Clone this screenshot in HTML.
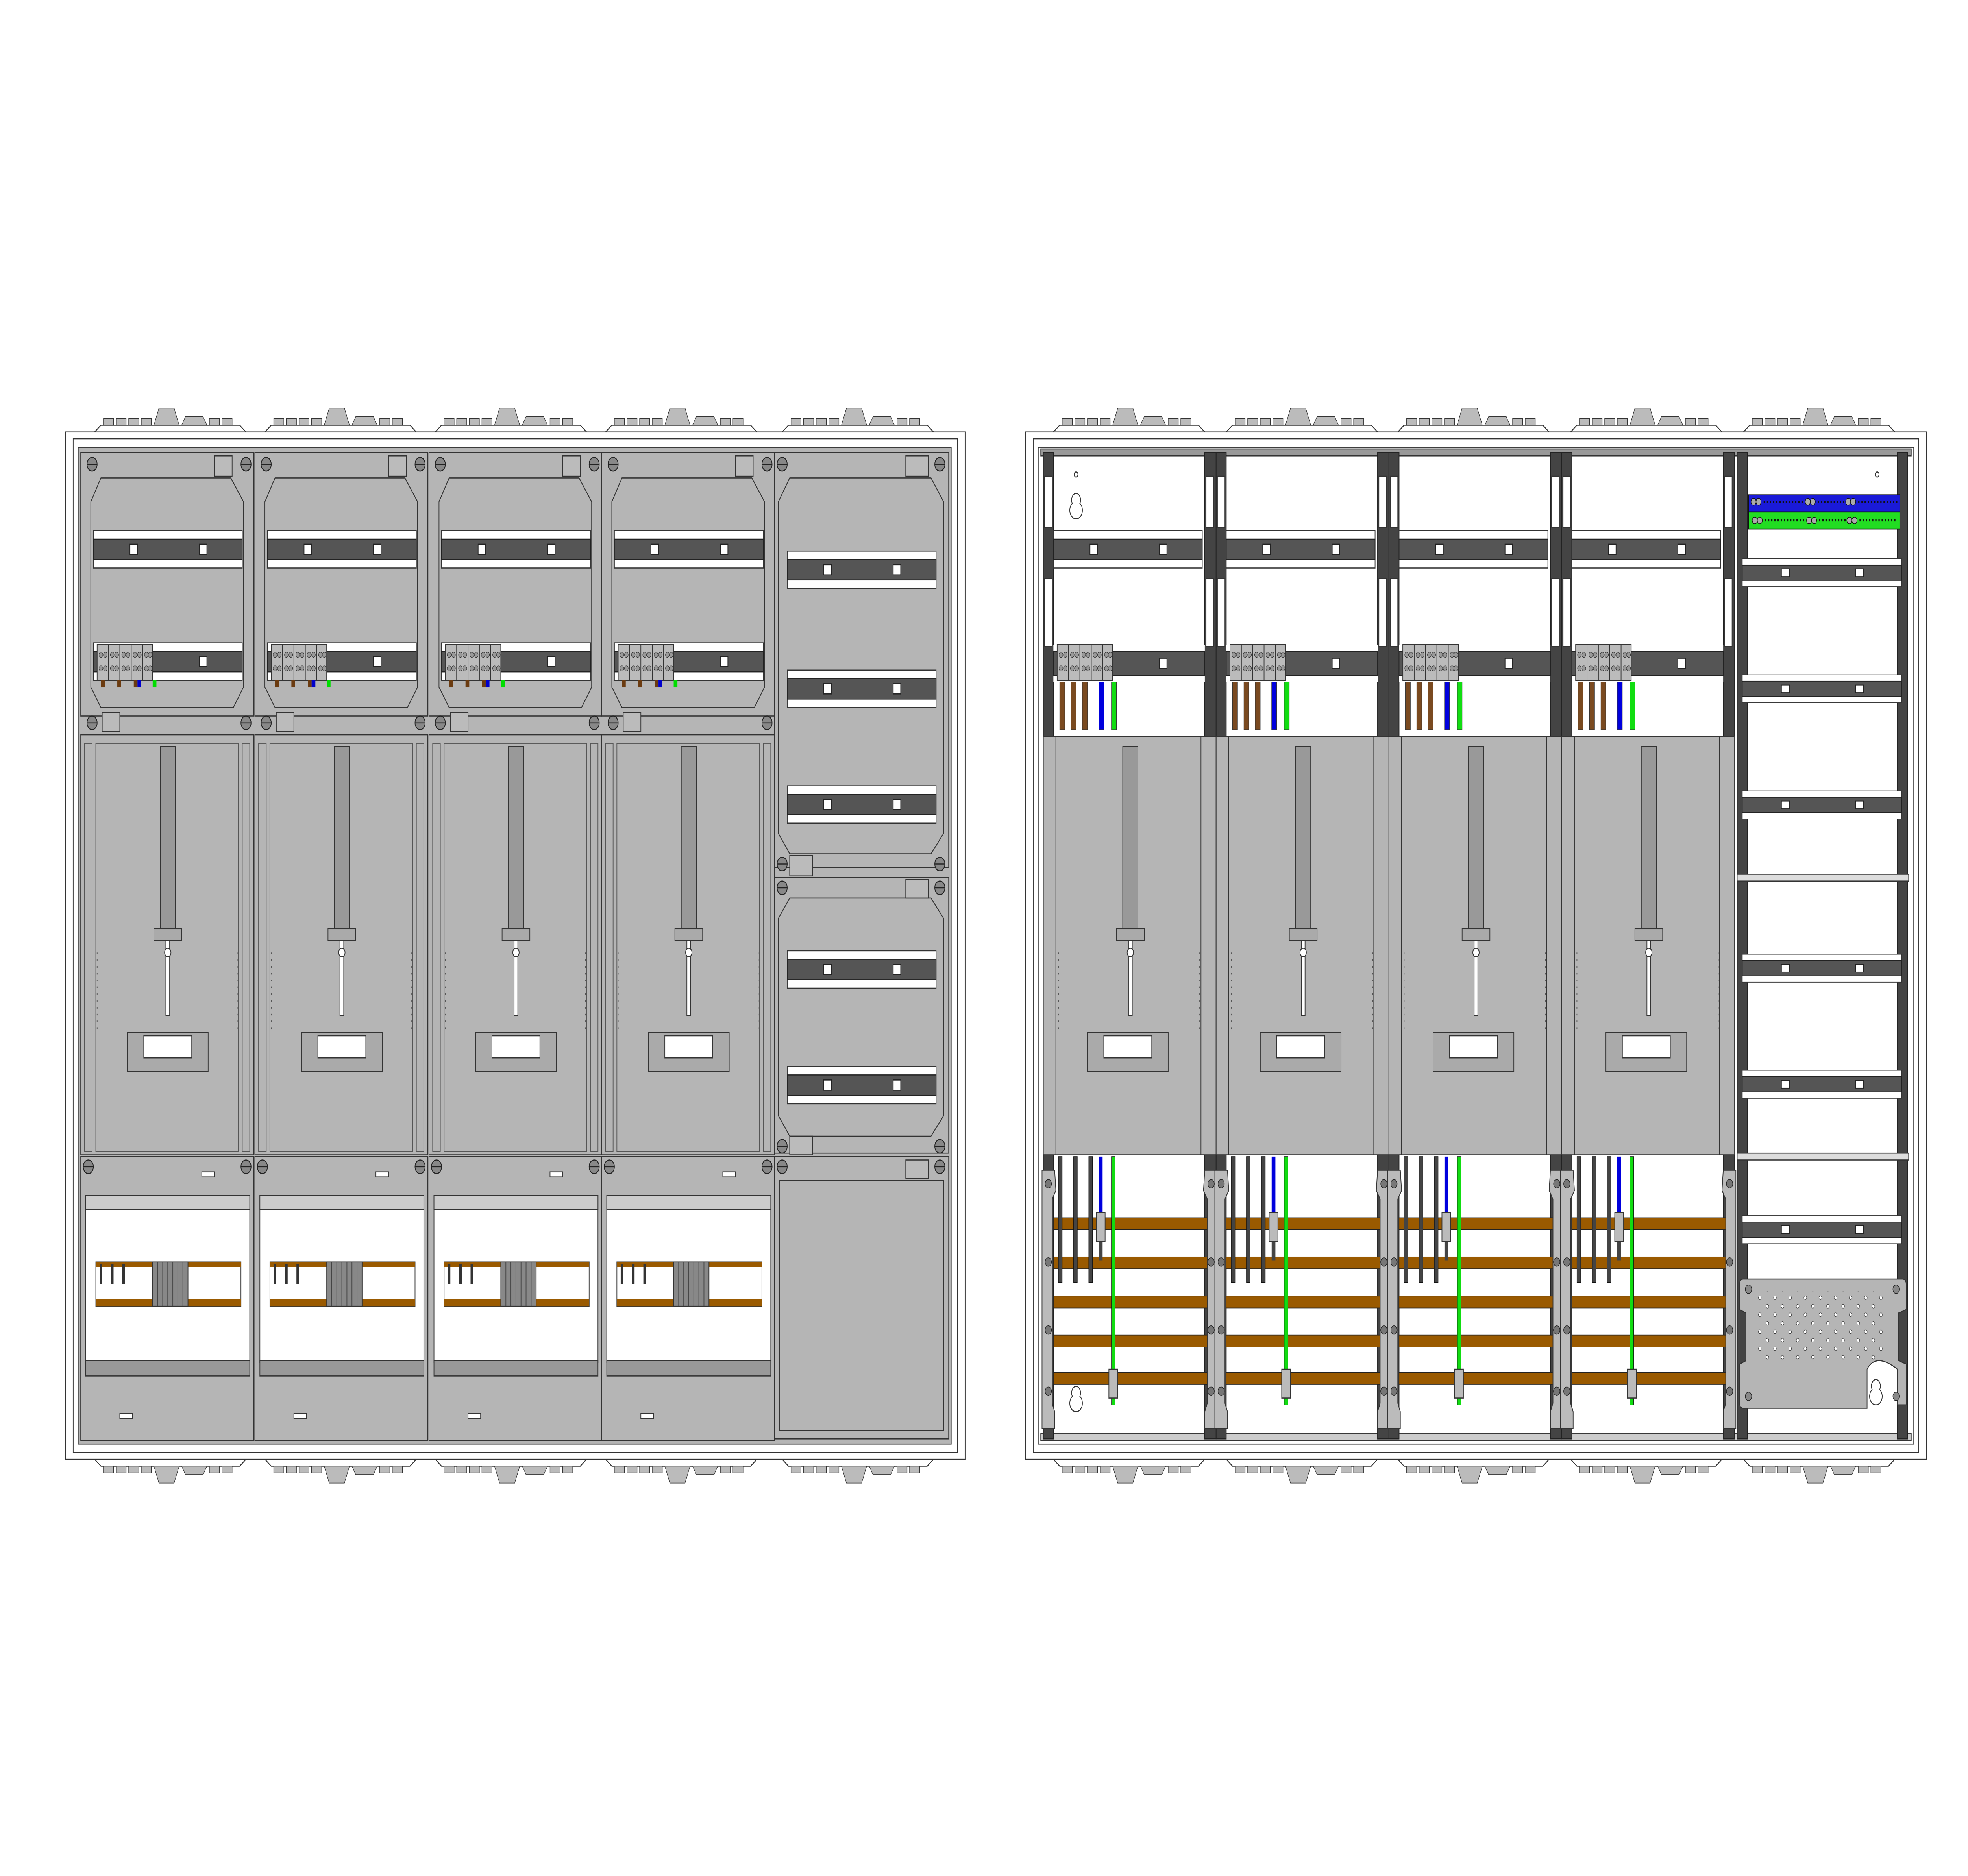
<!DOCTYPE html>
<html><head><meta charset="utf-8"><style>html,body{margin:0;padding:0;background:#fff;width:100%;height:100%;overflow:hidden}svg{display:block;position:fixed;left:0;top:0;width:100vw;height:100vh}</style></head>
<body>
<svg viewBox="0 0 1560 1103" preserveAspectRatio="none" xmlns="http://www.w3.org/2000/svg" stroke-width="0.6">
<defs>
<pattern id="holes" x="0" y="0" width="12" height="10" patternUnits="userSpaceOnUse">
<circle cx="3" cy="3" r="1.1" fill="#fff" stroke="#333" stroke-width="0.3"/>
<circle cx="9" cy="8" r="1.1" fill="#fff" stroke="#333" stroke-width="0.3"/>
</pattern>
<g id="glandT">
<path d="M-60 14 L-55 10 L55 10 L60 14" fill="#fff" stroke="#333"/>
<g fill="#bbb" stroke="#333" stroke-width="0.4">
<rect x="-53" y="6" width="8" height="4"/><rect x="-43" y="6" width="8" height="4"/><rect x="-33" y="6" width="8" height="4"/><rect x="-23" y="6" width="8" height="4"/>
<path d="M-13 10 L-9 0 L3 0 L7 10Z"/><path d="M9 10 L12 5 L26 5 L29 10Z"/>
<rect x="31" y="6" width="8" height="4"/><rect x="41" y="6" width="8" height="4"/>
</g></g>
<g id="glandB">
<path d="M-60 0 L-55 4 L55 4 L60 0" fill="#fff" stroke="#333"/>
<g fill="#bbb" stroke="#333" stroke-width="0.4">
<rect x="-53" y="4" width="8" height="4"/><rect x="-43" y="4" width="8" height="4"/><rect x="-33" y="4" width="8" height="4"/><rect x="-23" y="4" width="8" height="4"/>
<path d="M-13 4 L-9 14 L3 14 L7 4Z"/><path d="M9 4 L12 9 L26 9 L29 4Z"/>
<rect x="31" y="4" width="8" height="4"/><rect x="41" y="4" width="8" height="4"/>
</g></g>
<g id="rail">
<rect x="0" y="0" width="118" height="22" fill="#fff" stroke="#333"/>
<rect x="0" y="5" width="118" height="12" fill="#555" stroke="#222"/>
<rect x="29" y="8" width="6" height="6" fill="#fff" stroke="#222"/>
<rect x="84" y="8" width="6" height="6" fill="#fff" stroke="#222"/>
</g>
<g id="term">
<rect x="0" y="0" width="44" height="21" fill="#bbb" stroke="#333"/>
<g stroke="#333" fill="none"><line x1="9" y1="0" x2="9" y2="21"/><line x1="18" y1="0" x2="18" y2="21"/><line x1="27" y1="0" x2="27" y2="21"/><line x1="36" y1="0" x2="36" y2="21"/></g>
<g fill="#999" stroke="#333" stroke-width="0.3">
<circle cx="3" cy="6" r="1.5"/><circle cx="6.5" cy="6" r="1.5"/><circle cx="12" cy="6" r="1.5"/><circle cx="15.5" cy="6" r="1.5"/><circle cx="21" cy="6" r="1.5"/><circle cx="24.5" cy="6" r="1.5"/><circle cx="30" cy="6" r="1.5"/><circle cx="33.5" cy="6" r="1.5"/><circle cx="39" cy="6" r="1.5"/><circle cx="42" cy="6" r="1.5"/>
<circle cx="3" cy="14" r="1.5"/><circle cx="6.5" cy="14" r="1.5"/><circle cx="12" cy="14" r="1.5"/><circle cx="15.5" cy="14" r="1.5"/><circle cx="21" cy="14" r="1.5"/><circle cx="24.5" cy="14" r="1.5"/><circle cx="30" cy="14" r="1.5"/><circle cx="33.5" cy="14" r="1.5"/><circle cx="39" cy="14" r="1.5"/><circle cx="42" cy="14" r="1.5"/>
</g></g>
<g id="screw"><circle r="4" fill="#888" stroke="#222"/><line x1="-4" y1="0" x2="4" y2="0" stroke="#222"/></g>
<g id="lcol">
<rect x="0" y="266" width="137" height="155" fill="#b5b5b5" stroke="#333"/>
<path d="M16 281 L119 281 L129 295 L129 404 L121 416 L16 416 L8 404 L8 295Z" fill="#b5b5b5" stroke="#333"/>
<rect x="106" y="268" width="14" height="12" fill="#bbb" stroke="#333"/>
<rect x="17" y="419" width="14" height="11" fill="#bbb" stroke="#333"/>
<use href="#screw" x="9" y="273"/><use href="#screw" x="131" y="273"/><use href="#screw" x="9" y="425"/><use href="#screw" x="131" y="425"/>
<use href="#rail" x="10" y="312"/>
<use href="#rail" x="10" y="378"/>
<use href="#term" x="13" y="379"/>
<rect x="16" y="400" width="3" height="4" fill="#6b3b10"/><rect x="29" y="400" width="3" height="4" fill="#6b3b10"/><rect x="42" y="400" width="3" height="4" fill="#6b3b10"/><rect x="45" y="400" width="3" height="4" fill="#00c"/><rect x="57" y="400" width="3" height="4" fill="#0d0"/>
<rect x="0" y="432" width="137" height="247" fill="#b5b5b5" stroke="#333"/>
<rect x="12" y="437" width="113" height="240" fill="#b5b5b5" stroke="#555"/>
<rect x="3" y="437" width="6" height="240" fill="none" stroke="#555"/>
<rect x="128" y="437" width="6" height="240" fill="none" stroke="#555"/>
<rect x="63" y="439" width="12" height="108" fill="#999" stroke="#333"/>
<rect x="58" y="546" width="22" height="7" fill="#aaa" stroke="#333"/>
<rect x="67.5" y="553" width="3" height="44" fill="#fff" stroke="#333"/>
<circle cx="69" cy="560" r="2.5" fill="#fff" stroke="#333"/>
<rect x="37" y="607" width="64" height="23" fill="#aaa" stroke="#333"/>
<rect x="50" y="609" width="38" height="13" fill="#fff" stroke="#333"/>
<g stroke="#555" stroke-dasharray="1,3"><line x1="13" y1="560" x2="13" y2="608"/><line x1="124" y1="560" x2="124" y2="608"/></g>
<rect x="0" y="680" width="137" height="167" fill="#b5b5b5" stroke="#333"/>
<use href="#screw" x="6" y="686"/><use href="#screw" x="131" y="686"/>
<rect x="96" y="689" width="10" height="3" fill="#fff" stroke="#333"/>
<rect x="4" y="703" width="130" height="98" fill="#fff" stroke="#333"/>
<rect x="4" y="703" width="130" height="8" fill="#ccc" stroke="#333"/>
<rect x="4" y="800" width="130" height="9" fill="#999" stroke="#333"/>
<rect x="12" y="742" width="115" height="26" fill="#fff" stroke="#333"/>
<rect x="12" y="742" width="115" height="3" fill="#9a5a00"/><rect x="12" y="764" width="115" height="4" fill="#9a5a00"/>
<rect x="57" y="742" width="28" height="26" fill="#888" stroke="#333"/>
<g stroke="#444"><line x1="61" y1="742" x2="61" y2="768"/><line x1="65" y1="742" x2="65" y2="768"/><line x1="69" y1="742" x2="69" y2="768"/><line x1="73" y1="742" x2="73" y2="768"/><line x1="77" y1="742" x2="77" y2="768"/><line x1="81" y1="742" x2="81" y2="768"/></g>
<rect x="15" y="743" width="2" height="12" fill="#333"/><rect x="24" y="743" width="2" height="12" fill="#333"/><rect x="33" y="743" width="2" height="12" fill="#333"/>
<rect x="31" y="831" width="10" height="3" fill="#fff" stroke="#333"/>
</g>
<g id="rcol">
<rect x="0" y="266" width="8" height="580" fill="#444" stroke="#222"/>
<rect x="128" y="266" width="9" height="580" fill="#444" stroke="#222"/>
<rect x="1" y="280" width="6" height="30" fill="#fff" stroke="#333"/>
<rect x="129" y="280" width="6" height="30" fill="#fff" stroke="#333"/>
<rect x="1" y="340" width="6" height="40" fill="#fff" stroke="#333"/>
<rect x="129" y="340" width="6" height="40" fill="#fff" stroke="#333"/>
<use href="#rail" x="8" y="312"/>
<rect x="8" y="379" width="120" height="22" fill="#fff"/>
<rect x="8" y="383" width="120" height="14" fill="#555" stroke="#222"/>
<rect x="92" y="387" width="6" height="6" fill="#fff" stroke="#222"/>
<use href="#term" x="11" y="379"/>
<rect x="13" y="401" width="4" height="28" fill="#7a4a20" stroke="#333" stroke-width="0.3"/>
<rect x="22" y="401" width="4" height="28" fill="#7a4a20" stroke="#333" stroke-width="0.3"/>
<rect x="31" y="401" width="4" height="28" fill="#7a4a20" stroke="#333" stroke-width="0.3"/>
<rect x="44" y="401" width="4" height="28" fill="#00d" stroke="#333" stroke-width="0.3"/>
<rect x="54" y="401" width="4" height="28" fill="#1d1" stroke="#333" stroke-width="0.3"/>
<rect x="8" y="433" width="122" height="246" fill="#b5b5b5" stroke="#333"/>
<rect x="0" y="433" width="10" height="246" fill="#b5b5b5" stroke="#333"/>
<rect x="125" y="433" width="12" height="246" fill="#b5b5b5" stroke="#333"/>
<rect x="63" y="439" width="12" height="108" fill="#999" stroke="#333"/>
<rect x="58" y="546" width="22" height="7" fill="#aaa" stroke="#333"/>
<rect x="67.5" y="553" width="3" height="44" fill="#fff" stroke="#333"/>
<circle cx="69" cy="560" r="2.5" fill="#fff" stroke="#333"/>
<rect x="35" y="607" width="64" height="23" fill="#aaa" stroke="#333"/>
<rect x="48" y="609" width="38" height="13" fill="#fff" stroke="#333"/>
<g stroke="#555" stroke-dasharray="1,3"><line x1="12" y1="560" x2="12" y2="608"/><line x1="124" y1="560" x2="124" y2="608"/></g>
<g fill="#9a5a00" stroke="#222" stroke-width="0.4">
<rect x="8" y="716" width="129" height="7"/><rect x="8" y="739" width="129" height="7"/><rect x="8" y="762" width="129" height="7"/><rect x="8" y="785" width="129" height="7"/><rect x="8" y="807" width="129" height="7"/>
</g>
<rect x="12" y="680" width="3" height="74" fill="#444" stroke="#111" stroke-width="0.3"/>
<rect x="24" y="680" width="3" height="74" fill="#444" stroke="#111" stroke-width="0.3"/>
<rect x="36" y="680" width="3" height="74" fill="#444" stroke="#111" stroke-width="0.3"/>
<rect x="44" y="680" width="3" height="40" fill="#00d"/><rect x="44" y="720" width="3" height="21" fill="#444"/>
<rect x="42" y="713" width="7" height="17" fill="#bbb" stroke="#333"/>
<rect x="54" y="680" width="3" height="146" fill="#1d1" stroke="#111" stroke-width="0.3"/>
<rect x="52" y="805" width="7" height="17" fill="#bbb" stroke="#333"/>
<path d="M-1 688 L9 688 L10 700 L7 705 L7 825 L9 830 L9 840 L-1 840Z" fill="#bbb" stroke="#333"/>
<path d="M138 688 L128 688 L127 700 L130 705 L130 825 L128 830 L128 840 L138 840Z" fill="#bbb" stroke="#333"/>
<g fill="#777" stroke="#222" stroke-width="0.4"><circle cx="4" cy="696" r="2.5"/><circle cx="4" cy="742" r="2.5"/><circle cx="4" cy="782" r="2.5"/><circle cx="4" cy="818" r="2.5"/><circle cx="133" cy="696" r="2.5"/><circle cx="133" cy="742" r="2.5"/><circle cx="133" cy="782" r="2.5"/><circle cx="133" cy="818" r="2.5"/></g>
</g>
</defs>

<use href="#glandT" x="135" y="240"/><use href="#glandT" x="270" y="240"/><use href="#glandT" x="405" y="240"/><use href="#glandT" x="540" y="240"/><use href="#glandT" x="680" y="240"/>
<use href="#glandB" x="135" y="858"/><use href="#glandB" x="270" y="858"/><use href="#glandB" x="405" y="858"/><use href="#glandB" x="540" y="858"/><use href="#glandB" x="680" y="858"/>
<rect x="52" y="254" width="713" height="604" fill="#fff" stroke="#333"/>
<rect x="58" y="258" width="701" height="596" fill="#fff" stroke="#333"/>
<rect x="62" y="263" width="692" height="586" fill="#b5b5b5" stroke="#333"/>
<use href="#lcol" x="64"/><use href="#lcol" x="202"/><use href="#lcol" x="340"/><use href="#lcol" x="477"/>
<rect x="614" y="266" width="138" height="244" fill="#b5b5b5" stroke="#333"/>
<path d="M626 281 L738 281 L748 295 L748 490 L738 502 L626 502 L617 490 L617 295Z" fill="#b5b5b5" stroke="#333"/>
<use href="#screw" x="620" y="273"/><use href="#screw" x="745" y="273"/><use href="#screw" x="620" y="508"/><use href="#screw" x="745" y="508"/>
<rect x="718" y="268" width="18" height="12" fill="#bbb" stroke="#333"/>
<rect x="626" y="503" width="18" height="12" fill="#bbb" stroke="#333"/>
<use href="#rail" x="624" y="324"/><use href="#rail" x="624" y="394"/><use href="#rail" x="624" y="462"/>
<rect x="614" y="516" width="138" height="162" fill="#b5b5b5" stroke="#333"/>
<path d="M626 528 L738 528 L748 540 L748 656 L738 668 L626 668 L617 656 L617 540Z" fill="#b5b5b5" stroke="#333"/>
<use href="#screw" x="620" y="522"/><use href="#screw" x="745" y="522"/><use href="#screw" x="620" y="674"/><use href="#screw" x="745" y="674"/>
<rect x="718" y="517" width="18" height="11" fill="#bbb" stroke="#333"/>
<rect x="626" y="668" width="18" height="11" fill="#bbb" stroke="#333"/>
<use href="#rail" x="624" y="559"/><use href="#rail" x="624" y="627"/>
<rect x="614" y="680" width="138" height="166" fill="#b5b5b5" stroke="#333"/>
<rect x="618" y="694" width="130" height="147" fill="#b5b5b5" stroke="#333"/>
<use href="#screw" x="620" y="686"/><use href="#screw" x="745" y="686"/>
<rect x="718" y="682" width="18" height="11" fill="#bbb" stroke="#333"/>

<use href="#glandT" x="895" y="240"/><use href="#glandT" x="1032" y="240"/><use href="#glandT" x="1168" y="240"/><use href="#glandT" x="1305" y="240"/><use href="#glandT" x="1442" y="240"/>
<use href="#glandB" x="895" y="858"/><use href="#glandB" x="1032" y="858"/><use href="#glandB" x="1168" y="858"/><use href="#glandB" x="1305" y="858"/><use href="#glandB" x="1442" y="858"/>
<rect x="813" y="254" width="714" height="604" fill="#fff" stroke="#333"/>
<rect x="819" y="258" width="702" height="596" fill="#fff" stroke="#333"/>
<rect x="823" y="263" width="694" height="586" fill="#fff" stroke="#333"/>
<rect x="825" y="264" width="690" height="4" fill="#999" stroke="#333"/>
<rect x="825" y="843" width="690" height="4" fill="#ccc" stroke="#333"/>
<use href="#rcol" x="827"/><use href="#rcol" x="964"/><use href="#rcol" x="1101"/><use href="#rcol" x="1238"/>
<path d="M853 290 a4 4 0 0 1 3 6 a5 5 0 1 1 -6 0 a4 4 0 0 1 3 -6Z" fill="#fff" stroke="#333"/>
<circle cx="853" cy="279" r="1.5" fill="#fff" stroke="#333"/>
<path d="M853 815 a4 4 0 0 1 3 6 a5 5 0 1 1 -6 0 a4 4 0 0 1 3 -6Z" fill="#fff" stroke="#333"/>
<rect x="1377" y="266" width="8" height="580" fill="#444" stroke="#222"/>
<rect x="1504" y="266" width="8" height="580" fill="#444" stroke="#222"/>
<rect x="1386" y="291" width="120" height="10" fill="#1a1ad8" stroke="#111"/>
<rect x="1386" y="301" width="120" height="10" fill="#22dd22" stroke="#111"/>
<g fill="#aaa" stroke="#111" stroke-width="0.4"><circle cx="1390" cy="295" r="2"/><circle cx="1394" cy="295" r="2"/><circle cx="1433" cy="295" r="2"/><circle cx="1437" cy="295" r="2"/><circle cx="1465" cy="295" r="2"/><circle cx="1469" cy="295" r="2"/>
<circle cx="1391" cy="306" r="2"/><circle cx="1395" cy="306" r="2"/><circle cx="1434" cy="306" r="2"/><circle cx="1438" cy="306" r="2"/><circle cx="1466" cy="306" r="2"/><circle cx="1470" cy="306" r="2"/></g>
<g stroke="#111" stroke-dasharray="1,1.5" stroke-width="1.2"><line x1="1398" y1="295" x2="1430" y2="295"/><line x1="1441" y1="295" x2="1462" y2="295"/><line x1="1473" y1="295" x2="1504" y2="295"/>
<line x1="1399" y1="306" x2="1431" y2="306"/><line x1="1442" y1="306" x2="1463" y2="306"/><line x1="1474" y1="306" x2="1504" y2="306"/></g>
<circle cx="1488" cy="279" r="1.5" fill="#fff" stroke="#333"/>
<g transform="translate(1381,0) scale(1.07,0.75)"><use href="#rail" x="0" y="438"/><use href="#rail" x="0" y="529"/><use href="#rail" x="0" y="620"/><use href="#rail" x="0" y="748"/><use href="#rail" x="0" y="839"/><use href="#rail" x="0" y="953"/></g>
<rect x="1377" y="514" width="136" height="4" fill="#ddd" stroke="#333"/>
<rect x="1377" y="678" width="136" height="4" fill="#ddd" stroke="#333"/>
<path d="M1382 752 L1508 752 Q1511 752 1511 755 L1511 770 L1505 772 L1505 800 L1511 802 L1511 826 L1504 826 L1504 805 Q1487 795 1480 805 L1480 828 L1382 828 Q1379 828 1379 825 L1379 802 L1384 800 L1384 772 L1379 770 L1379 755 Q1379 752 1382 752Z" fill="#b5b5b5" stroke="#333"/>
<rect x="1393" y="759" width="102" height="42" fill="url(#holes)"/>
<g fill="#888" stroke="#222" stroke-width="0.4"><circle cx="1386" cy="758" r="2.5"/><circle cx="1503" cy="758" r="2.5"/><circle cx="1386" cy="821" r="2.5"/><circle cx="1503" cy="821" r="2.5"/></g>
<path d="M1487 811 a4 4 0 0 1 3 6 a5 5 0 1 1 -6 0 a4 4 0 0 1 3 -6Z" fill="#fff" stroke="#333"/>
</svg>
</body></html>
